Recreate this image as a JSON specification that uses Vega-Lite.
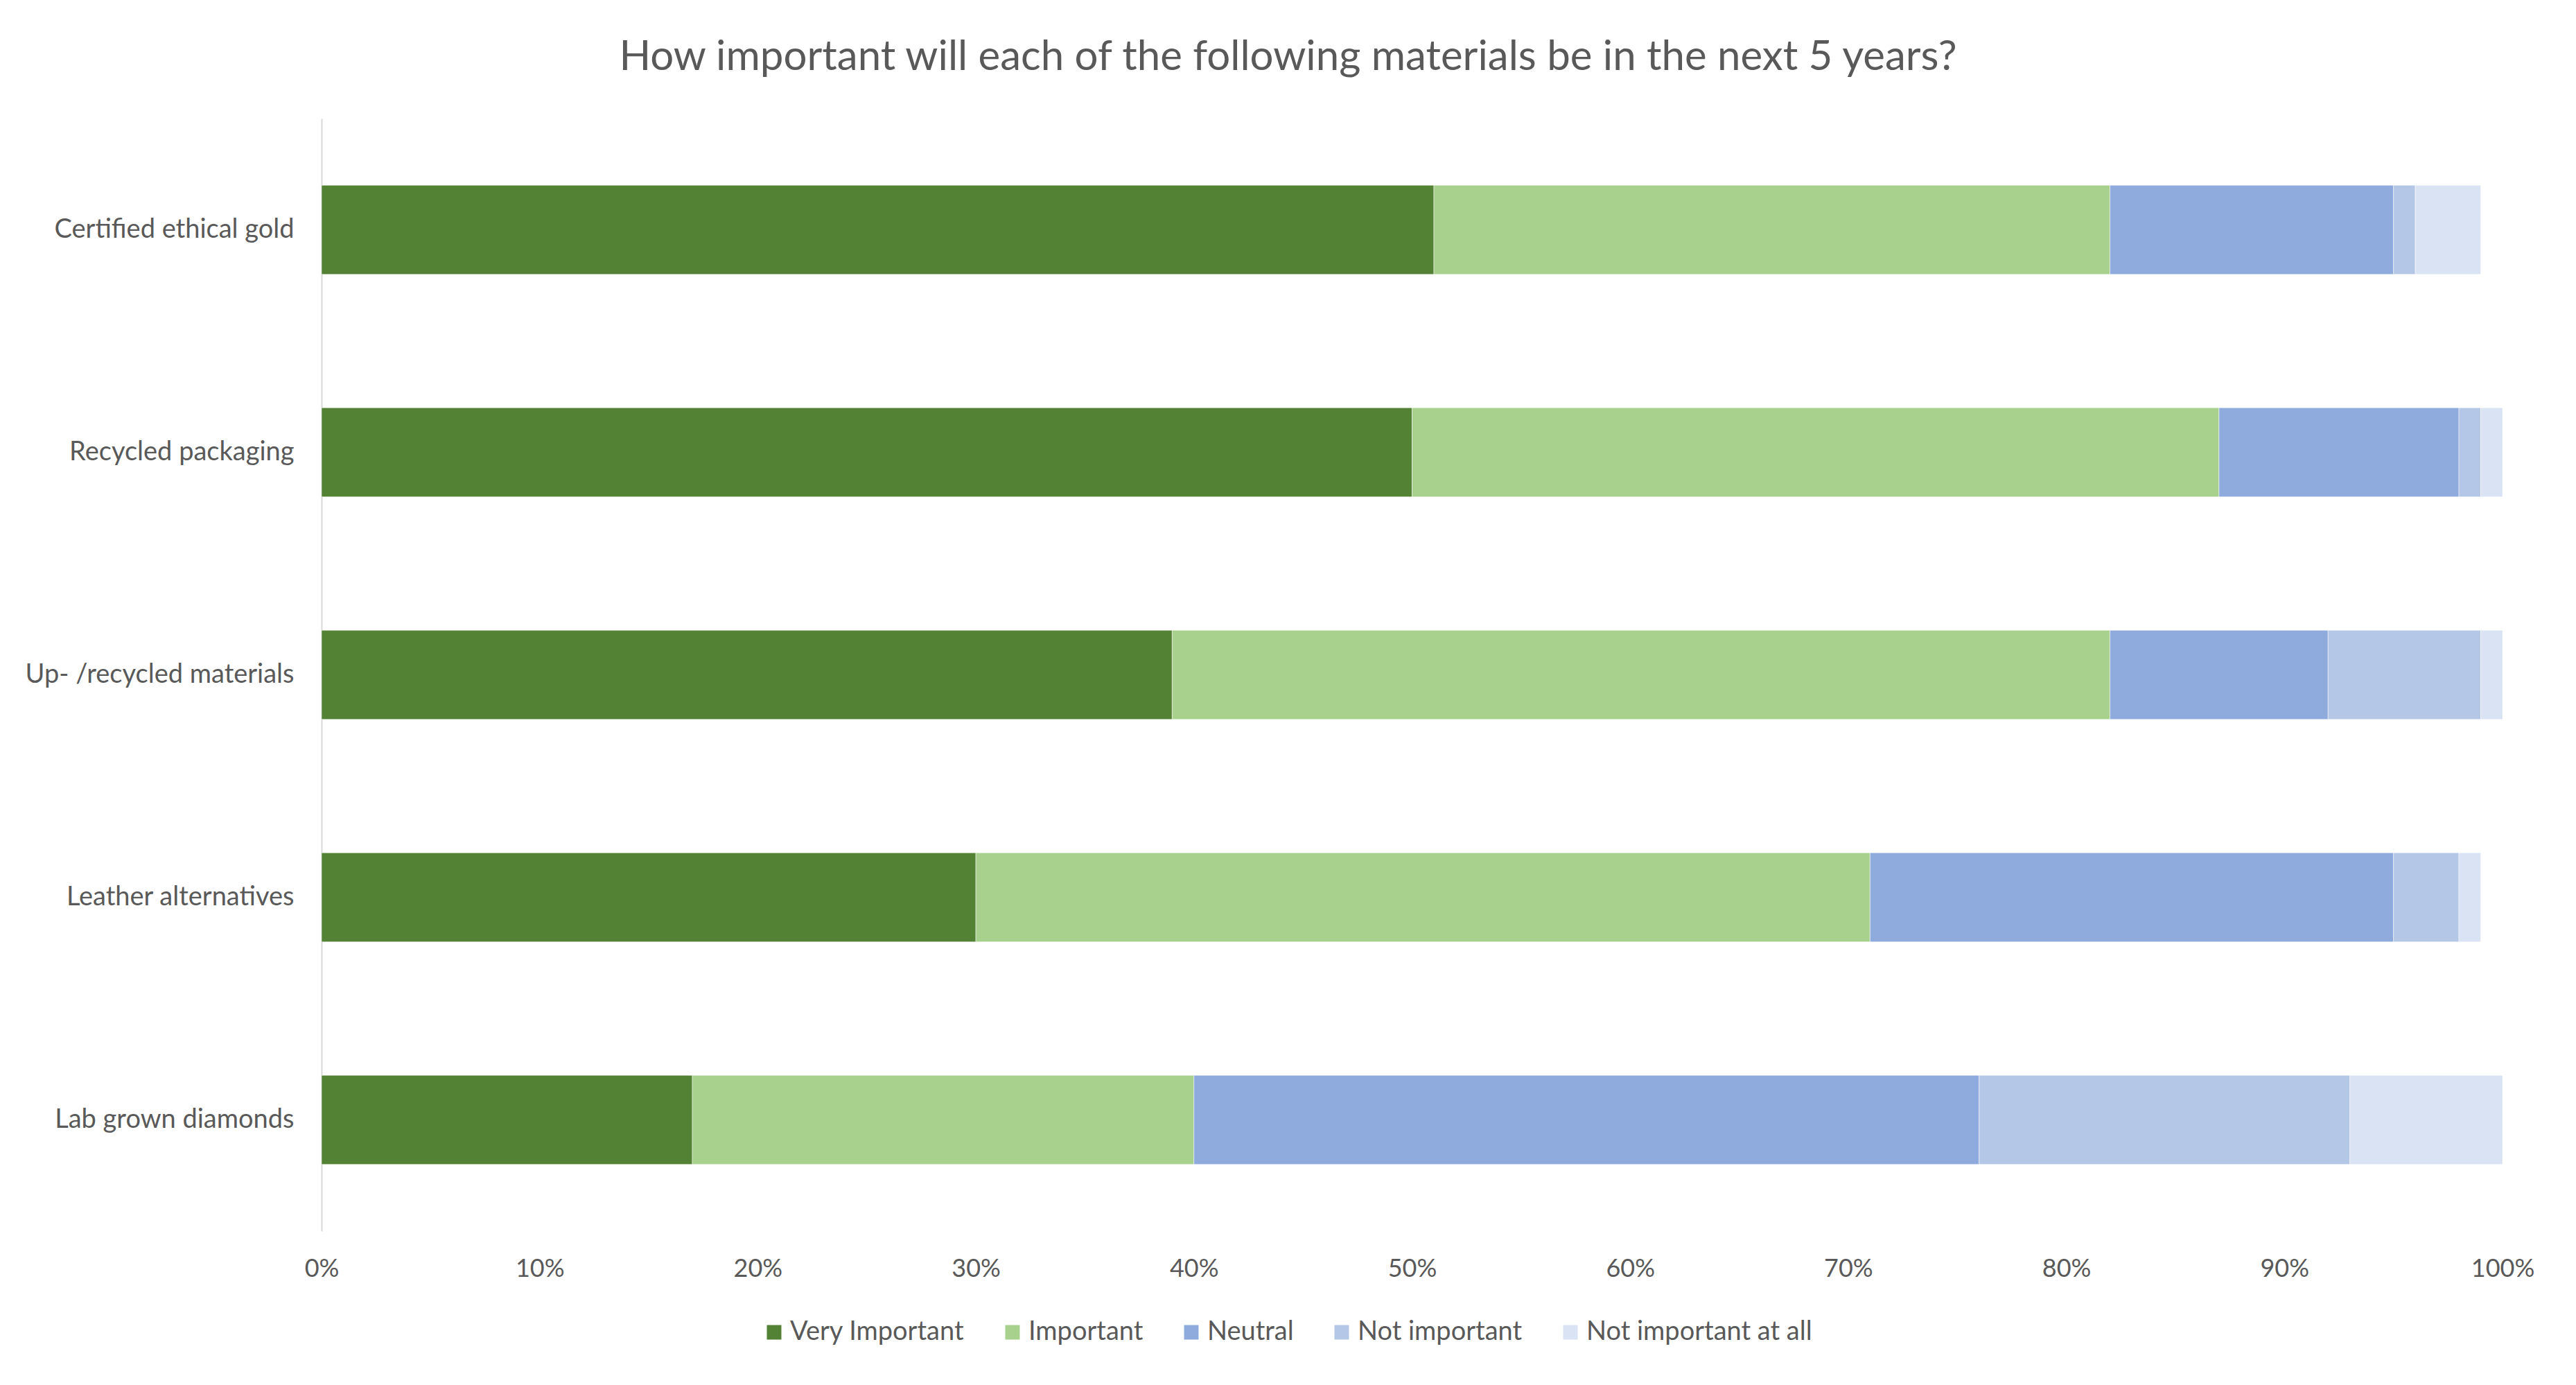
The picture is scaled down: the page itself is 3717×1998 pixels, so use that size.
{
  "$schema": "https://vega.github.io/schema/vega-lite/v6.json",
  "autosize": {"type": "none"},
  "width": 3147,
  "height": 1605,
  "padding": {"left": 464, "top": 171, "right": 106, "bottom": 222},
  "background": "white",
  "title": {
    "text": "How important will each of the following materials be in the next 5 years?",
    "font": "Lato",
    "fontSize": 60,
    "fontWeight": "normal",
    "color": "#595959",
    "anchor": "middle",
    "frame": "group",
    "dx": -179,
    "baseline": "alphabetic",
    "offset": 10
  },
  "data": {
    "values": [
      {"item": "Certified ethical gold", "level": "Very Important", "idx": 1, "pct": 51},
      {"item": "Certified ethical gold", "level": "Important", "idx": 2, "pct": 31},
      {"item": "Certified ethical gold", "level": "Neutral", "idx": 3, "pct": 13},
      {"item": "Certified ethical gold", "level": "Not important", "idx": 4, "pct": 1},
      {"item": "Certified ethical gold", "level": "Not important at all", "idx": 5, "pct": 3},
      {"item": "Recycled packaging", "level": "Very Important", "idx": 1, "pct": 50},
      {"item": "Recycled packaging", "level": "Important", "idx": 2, "pct": 37},
      {"item": "Recycled packaging", "level": "Neutral", "idx": 3, "pct": 11},
      {"item": "Recycled packaging", "level": "Not important", "idx": 4, "pct": 1},
      {"item": "Recycled packaging", "level": "Not important at all", "idx": 5, "pct": 1},
      {"item": "Up- /recycled materials", "level": "Very Important", "idx": 1, "pct": 39},
      {"item": "Up- /recycled materials", "level": "Important", "idx": 2, "pct": 43},
      {"item": "Up- /recycled materials", "level": "Neutral", "idx": 3, "pct": 10},
      {"item": "Up- /recycled materials", "level": "Not important", "idx": 4, "pct": 7},
      {"item": "Up- /recycled materials", "level": "Not important at all", "idx": 5, "pct": 1},
      {"item": "Leather alternatives", "level": "Very Important", "idx": 1, "pct": 30},
      {"item": "Leather alternatives", "level": "Important", "idx": 2, "pct": 41},
      {"item": "Leather alternatives", "level": "Neutral", "idx": 3, "pct": 24},
      {"item": "Leather alternatives", "level": "Not important", "idx": 4, "pct": 3},
      {"item": "Leather alternatives", "level": "Not important at all", "idx": 5, "pct": 1},
      {"item": "Lab grown diamonds", "level": "Very Important", "idx": 1, "pct": 17},
      {"item": "Lab grown diamonds", "level": "Important", "idx": 2, "pct": 23},
      {"item": "Lab grown diamonds", "level": "Neutral", "idx": 3, "pct": 36},
      {"item": "Lab grown diamonds", "level": "Not important", "idx": 4, "pct": 17},
      {"item": "Lab grown diamonds", "level": "Not important at all", "idx": 5, "pct": 7}
    ]
  },
  "mark": {"type": "bar", "stroke": "white", "strokeWidth": 1, "strokeOpacity": 0.5},
  "encoding": {
    "y": {
      "field": "item",
      "type": "nominal",
      "sort": ["Certified ethical gold", "Recycled packaging", "Up- /recycled materials", "Leather alternatives", "Lab grown diamonds"],
      "scale": {"paddingInner": 0.6, "paddingOuter": 0.3},
      "axis": {
        "title": null,
        "domain": true,
        "domainColor": "#d9d9d9",
        "domainWidth": 2,
        "ticks": false,
        "grid": false,
        "labelFont": "Lato",
        "labelFontSize": 38,
        "labelColor": "#595959",
        "labelPadding": 40,
        "labelLimit": 0
      }
    },
    "x": {
      "field": "pct",
      "type": "quantitative",
      "stack": "zero",
      "scale": {"domain": [0, 100], "nice": false},
      "axis": {
        "title": null,
        "values": [0, 10, 20, 30, 40, 50, 60, 70, 80, 90, 100],
        "labelExpr": "datum.value + '%'",
        "domain": false,
        "ticks": false,
        "grid": false,
        "labelFont": "Lato",
        "labelFontSize": 36,
        "labelColor": "#595959",
        "labelPadding": 37,
        "labelFlush": false
      }
    },
    "color": {
      "field": "level",
      "type": "nominal",
      "sort": ["Very Important", "Important", "Neutral", "Not important", "Not important at all"],
      "scale": {
        "domain": ["Very Important", "Important", "Neutral", "Not important", "Not important at all"],
        "range": ["#548235", "#A9D18E", "#8FAADC", "#B4C7E7", "#DAE3F3"]
      },
      "legend": {
        "title": null,
        "orient": "none",
        "legendX": 634,
        "legendY": 1732,
        "direction": "horizontal",
        "columns": 5,
        "symbolType": "square",
        "symbolSize": 440,
        "symbolStrokeWidth": 0,
        "labelFont": "Lato",
        "labelFontSize": 38,
        "labelColor": "#595959",
        "labelOffset": 4,
        "labelLimit": 0,
        "columnPadding": 50
      }
    },
    "order": {"field": "idx", "type": "quantitative"}
  },
  "config": {"view": {"stroke": null}}
}
